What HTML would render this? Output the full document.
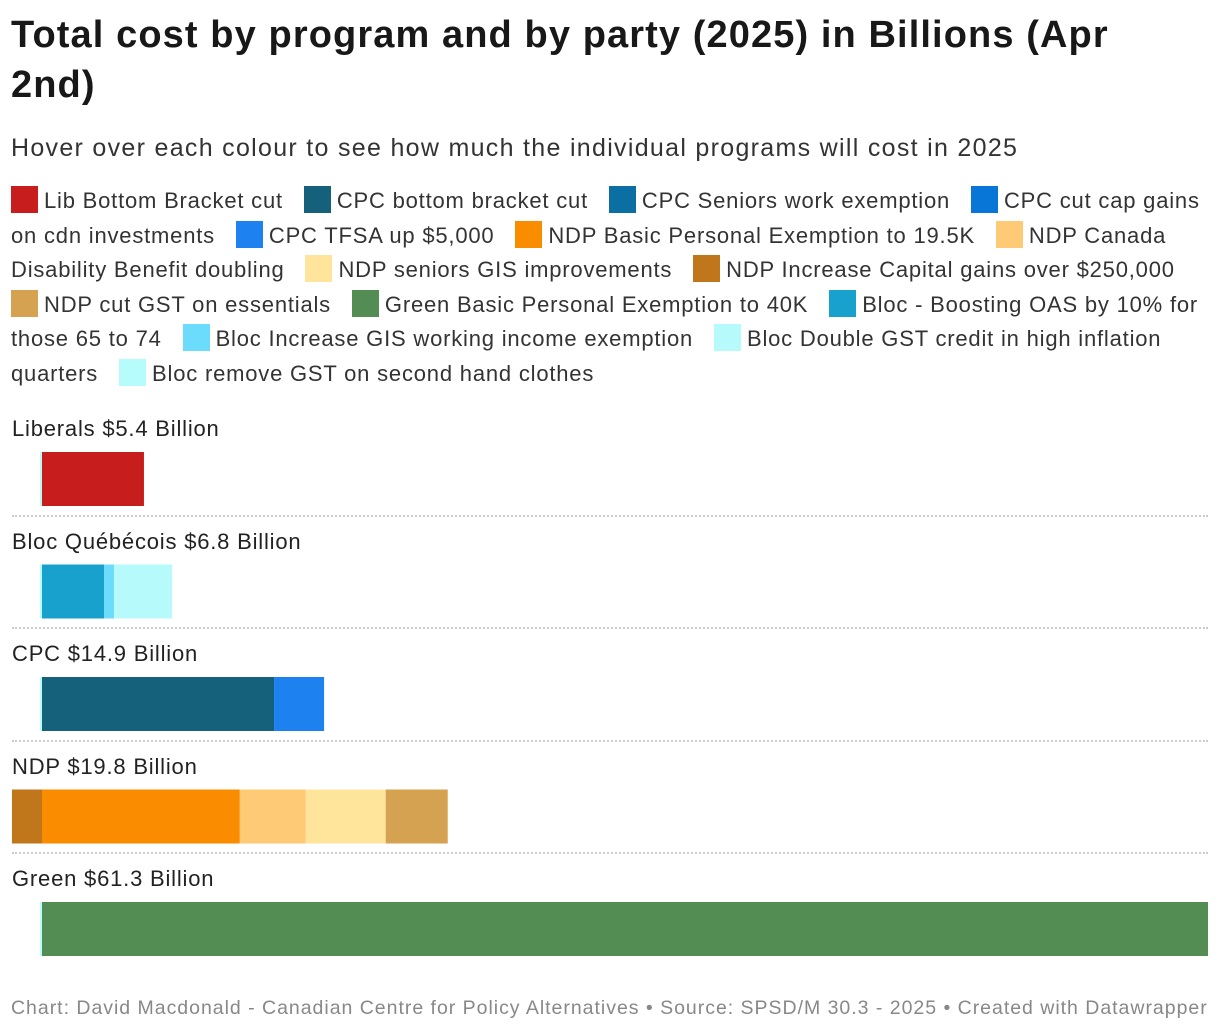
<!DOCTYPE html>
<html><head><meta charset="utf-8">
<style>
body{margin:0;width:1220px;height:1034px;background:#fff;font-family:"Liberation Sans",sans-serif;color:#181818;position:relative;overflow:hidden}
h1{position:absolute;left:11px;top:10px;margin:0;font-size:38px;line-height:50px;font-weight:bold;width:1160px;letter-spacing:1.1px}
.sub{position:absolute;left:11px;top:134px;font-size:25px;color:#333;letter-spacing:1.3px;white-space:nowrap}
.legend{position:absolute;left:11px;top:184px;width:1209px;font-size:22px;line-height:34.5px;color:#333;letter-spacing:0.8px}
.li{margin-right:14px}
.sw{display:inline-block;width:27px;height:27px;vertical-align:-5px;margin-right:6px}
.lbl{position:absolute;left:12px;font-size:22px;color:#222;letter-spacing:0.8px}
.sep{position:absolute;left:12px;width:1196px;border-top:2px dotted #ccc}
.foot{position:absolute;left:11px;top:997px;font-size:19.5px;color:#888;letter-spacing:0.98px;white-space:nowrap}
</style></head><body>
<h1>Total cost by program and by party (2025) in Billions (Apr 2nd)</h1>
<div class="sub">Hover over each colour to see how much the individual programs will cost in 2025</div>
<div class="legend" id="legend"></div>
<svg id="chart" width="1220" height="1034" style="position:absolute;left:0;top:0"></svg>
<div class="foot">Chart: David Macdonald - Canadian Centre for Policy Alternatives • Source: SPSD/M 30.3 - 2025 • Created with Datawrapper</div>
<script>
const programs=["Lib Bottom Bracket cut","CPC bottom bracket cut","CPC Seniors work exemption","CPC cut cap gains on cdn investments","CPC TFSA up $5,000","NDP Basic Personal Exemption to 19.5K","NDP Canada Disability Benefit doubling","NDP seniors GIS improvements","NDP Increase Capital gains over $250,000","NDP cut GST on essentials","Green Basic Personal Exemption to 40K","Bloc - Boosting OAS by 10% for those 65 to 74","Bloc Increase GIS working income exemption","Bloc Double GST credit in high inflation quarters","Bloc remove GST on second hand clothes"];
const colors=["#c71e1d","#15607a","#0b6fa4","#0876d6","#1d81f0","#fa8c00","#ffca76","#ffe59c","#c0771c","#d5a252","#548d53","#18a1cd","#6cdcfd","#b7fafb","#b7fcfd"];
const parties=["Liberals $5.4 Billion","Bloc Québécois $6.8 Billion","CPC $14.9 Billion","NDP $19.8 Billion","Green $61.3 Billion"];
const partyPrograms=[[0],[11,12,13],[1,4],[8,5,6,7,9],[10]];
const partyValues=[[5.36],[3.26,0.53,3.05],[12.2,2.63],[-1.58,10.4,3.47,4.2,3.26],[61.3]];
const lg=document.getElementById('legend');
programs.forEach((p,i)=>{const s=document.createElement('span');s.className='li';


s.innerHTML='<span class="sw" style="background:'+colors[i]+'"></span>'+p;lg.appendChild(s);lg.appendChild(document.createTextNode(' '));});
const x0=42,scale=(1208-42)/61.3;const xs=v=>x0+v*scale;
const svg=document.getElementById('chart');const NS='http://www.w3.org/2000/svg';
parties.forEach((name,r)=>{
 const top=404+r*112.5;
 const l=document.createElement('div');l.className='lbl';l.style.top=(top+12)+'px';l.textContent=name;
 
 
 document.body.appendChild(l);
 if(r>0){const s=document.createElement('div');s.className='sep';s.style.top=(top-2)+'px';
 
 
 document.body.appendChild(s);}
 const by=top+48;
 const z=document.createElementNS(NS,'rect');z.setAttribute('x',x0-2);z.setAttribute('y',by);z.setAttribute('width',2);z.setAttribute('height',54);z.setAttribute('fill','#b7fcfd');
 
 
 svg.appendChild(z);
 let pos=0,neg=0;
 partyValues[r].forEach((v,k)=>{let a,b;if(v<0){a=neg+v;b=neg;neg=a;}else{a=pos;b=pos+v;pos=b;}
  const rc=document.createElementNS(NS,'rect');rc.setAttribute('x',xs(a));rc.setAttribute('y',by);rc.setAttribute('width',xs(b)-xs(a));rc.setAttribute('height',54);rc.setAttribute('fill',colors[partyPrograms[r][k]]);
  
  
  svg.appendChild(rc);});
});
</script>
</body></html>
